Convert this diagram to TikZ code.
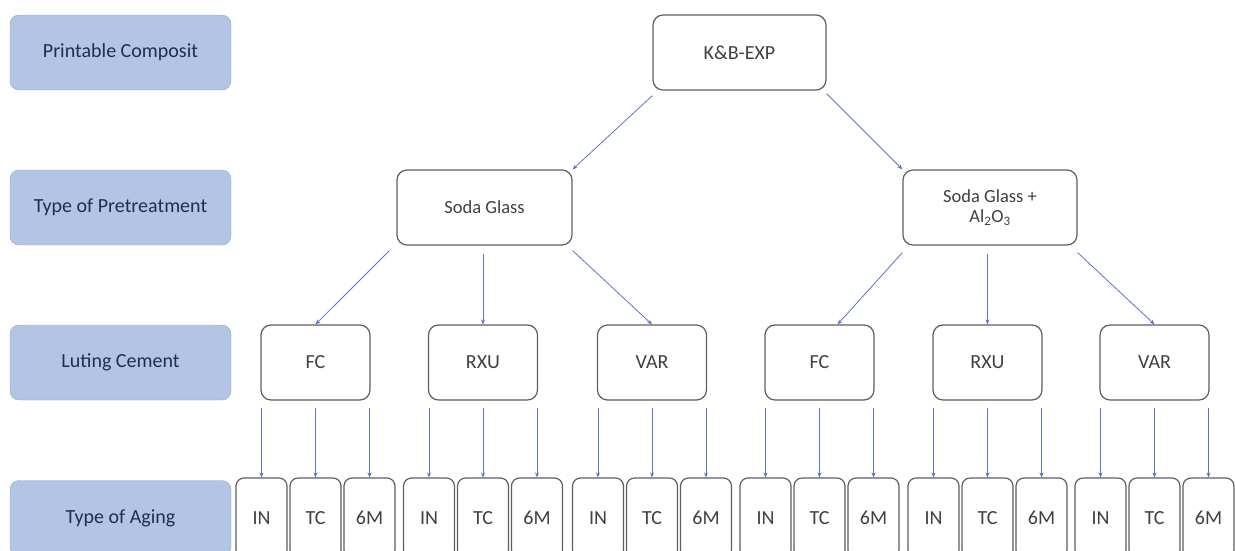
\documentclass[tikz,border=0pt]{standalone}
\usepackage{fontspec}
\setmainfont{Carlito}
\usepackage{tikz}
\usetikzlibrary{arrows.meta,positioning,calc}
\definecolor{labelblue}{RGB}{178,197,229}
\definecolor{labeltext}{RGB}{36,46,72}
\definecolor{boxgray}{RGB}{95,95,95}
\definecolor{arrowblue}{RGB}{88,118,196}

\begin{document}
\begin{tikzpicture}[x=1pt, y=-1pt,
    levelname/.style={rectangle, rounded corners=9pt, fill=labelblue, draw=labelblue!85!black, line width=0.4pt,
        minimum width=221pt, minimum height=75pt, inner sep=0pt, text=labeltext, font=\fontsize{20}{23}\selectfont},
    treebox/.style={rectangle, rounded corners=10pt, draw=boxgray, line width=1.2pt, fill=white,
        minimum height=75pt, inner sep=0pt, text=black!75, font=\fontsize{20}{23}\selectfont, align=center},
    agebox/.style={treebox, rounded corners=8pt, minimum width=51pt, minimum height=80pt},
    arr/.style={-{Stealth[length=5pt,width=4pt]}, arrowblue, line width=0.8pt}]
    \clip (0,0) rectangle (1235,550);

    % Row labels
    \node[levelname] (rowcomp) at (120.5,52.5) {Printable Composit};
    \node[levelname] (rowpre) at (120.5,207.5) {Type of Pretreatment};
    \node[levelname] (rowcem) at (120.5,362.5) {Luting Cement};
    \node[levelname] (rowage) at (120.5,518) {Type of Aging};

    % Composite and pretreatments
    \node[treebox, minimum width=173pt] (kb) at (739.5,52.5) {K\&B-EXP};
    \node[treebox, minimum width=175pt, font=\fontsize{18.5}{21}\selectfont] (sg) at (484.5,207.5) {Soda Glass};
    \node[treebox, minimum width=174pt, font=\fontsize{18.5}{21}\selectfont] (sga) at (990,207.5) {Soda Glass +\\[-1pt] Al\textsubscript{2}O\textsubscript{3}};

    \draw[arr] ([yshift=-5pt]kb.south west) -- (sg.north east);
    \draw[arr] ([yshift=-3pt]kb.south east) -- (sga.north west);

    % Luting cements
    \node[treebox, minimum width=109pt] (fcA) at (315.5,362.5) {FC};
    \node[treebox, minimum width=109pt] (rxuA) at (483,362.5) {RXU};
    \node[treebox, minimum width=109pt] (varA) at (652,362.5) {VAR};
    \node[treebox, minimum width=109pt] (fcB) at (819.5,362.5) {FC};
    \node[treebox, minimum width=109pt] (rxuB) at (987.5,362.5) {RXU};
    \node[treebox, minimum width=109pt] (varB) at (1154.5,362.5) {VAR};

    \draw[arr] ([shift={(-7pt,-5pt)}]sg.south west) -- (fcA.north);
    \draw[arr] ([yshift=-8pt]sg.south -| rxuA.north) -- (rxuA.north);
    \draw[arr] ([yshift=-5pt]sg.south east) -- (varA.north);
    \draw[arr] ([yshift=-7pt]sga.south west) -- ([xshift=18pt]fcB.north);
    \draw[arr] ([yshift=-8pt]sga.south -| rxuB.north) -- (rxuB.north);
    \draw[arr] ([yshift=-7pt]sga.south east) -- (varB.north);

    % Aging per cement
    \foreach \g/\cx in {fcA/315.5, rxuA/483, varA/652, fcB/819.5, rxuB/987.5, varB/1154.5} {
        \foreach \t/\dx in {IN/-54, TC/0, 6M/54} {
            \node[agebox] (\g-\t) at (\cx+\dx,518) {\t};
            \draw[arr] ([yshift=-7pt]\g.south -| \g-\t.north) -- (\g-\t.north);
        }
    }
\end{tikzpicture}
\end{document}
